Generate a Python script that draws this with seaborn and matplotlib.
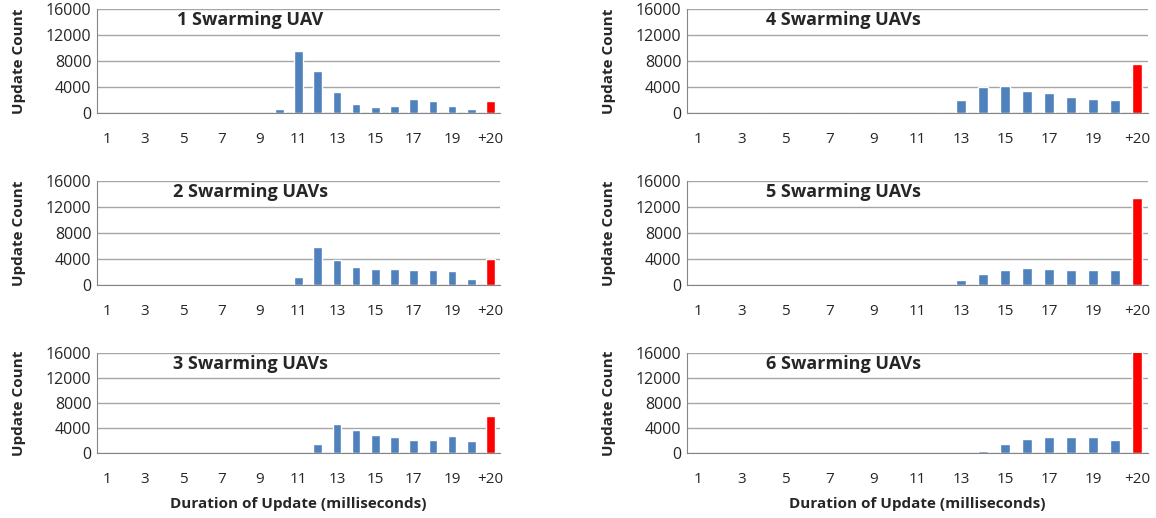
import numpy as np
import pandas as pd
import matplotlib
matplotlib.use("Agg")
import matplotlib.pyplot as plt
import seaborn as sns

sns.set_style("white")
plt.rcParams["font.family"] = ["Open Sans", "DejaVu Sans"]

# duration bins (ms)
categories = [str(i) for i in range(1, 21)] + ["+20"]

titles = ["1 Swarming UAV", "2 Swarming UAVs", "3 Swarming UAVs",
          "4 Swarming UAVs", "5 Swarming UAVs", "6 Swarming UAVs"]

uav1 = [0, 0, 0, 0, 0, 0, 0, 0, 0, 600, 9500, 6500, 3170, 1400, 870, 1020, 2100, 1900, 1120, 600, 1850]
uav2 = [0, 0, 0, 0, 0, 0, 0, 0, 0, 0, 1280, 5880, 3830, 2760, 2500, 2400, 2250, 2350, 2100, 920, 4040]
uav3 = [0, 0, 50, 0, 0, 0, 0, 0, 0, 0, 50, 1500, 4700, 3730, 2930, 2610, 2080, 2030, 2670, 1870, 5920]
uav4 = [0, 0, 0, 0, 0, 0, 0, 0, 0, 0, 0, 0, 2000, 4040, 4100, 3430, 3020, 2400, 2150, 1940, 7520]
uav5 = [0, 0, 0, 0, 0, 0, 0, 0, 0, 0, 0, 0, 770, 1640, 2300, 2600, 2500, 2300, 2250, 2250, 13440]
uav6 = [0, 0, 0, 0, 0, 0, 0, 0, 0, 0, 0, 0, 50, 370, 1440, 2190, 2610, 2610, 2500, 2080, 17000]

series = [uav1, uav2, uav3, uav4, uav5, uav6]

BLUE = "#4F81BD"
RED = "#FF0000"
palette = {c: (RED if c == "+20" else BLUE) for c in categories}

W, H = 1156, 518
fig = plt.figure(figsize=(W / 100, H / 100), dpi=100)

# pixel boxes (x0, x1) for columns and (ytop, ybottom) for rows
cols = [(97, 500), (687, 1148)]
rows = [(9, 113), (181, 285), (353, 453)]
title_x = [0.38, 0.34]

for i, (title, vals) in enumerate(zip(titles, series)):
    c, r = i // 3, i % 3
    x0, x1 = cols[c]
    yt, yb = rows[r]
    ax = fig.add_axes([x0 / W, 1 - yb / H, (x1 - x0) / W, (yb - yt) / H])

    df = pd.DataFrame({"bin": categories, "count": vals})
    sns.barplot(data=df, x="bin", y="count", hue="bin", palette=palette,
                legend=False, width=0.45, ax=ax, saturation=1)

    ax.set_ylim(0, 16000)
    ax.set_xlim(-0.5, len(categories) - 0.5)
    ax.set_yticks([0, 4000, 8000, 12000, 16000])
    ax.yaxis.grid(True, color="#A6A6A6", linewidth=1)
    ax.set_axisbelow(True)

    ax.set_xticks(range(0, len(categories), 2))
    ax.set_xticklabels(categories[::2])
    ax.set_xticks(np.arange(-0.5, len(categories), 1), minor=True)
    ax.tick_params(axis="x", which="major", length=0, pad=14, labelsize=11)
    ax.tick_params(axis="x", which="minor", length=5, color="#868686", direction="out")
    ax.tick_params(axis="y", length=0, pad=4, labelsize=11.5)

    for s in ["top", "right"]:
        ax.spines[s].set_visible(False)
    ax.spines["left"].set_color("#868686")
    ax.spines["bottom"].set_color("#868686")

    ax.set_ylabel("Update Count", fontsize=11, fontweight="bold", labelpad=14)
    if r == 2:
        ax.set_xlabel("Duration of Update (milliseconds)", fontsize=11,
                      fontweight="bold", labelpad=7)
    else:
        ax.set_xlabel("")

    ax.text(title_x[c], 0.98, title, transform=ax.transAxes, ha="center",
            va="top", fontsize=13, fontweight="bold")

fig.savefig("out.png", dpi=100)
